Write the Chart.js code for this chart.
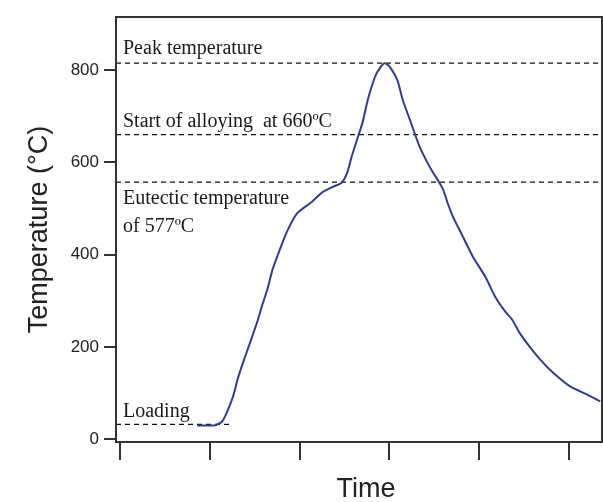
<!DOCTYPE html>
<html>
<head>
<meta charset="utf-8">
<style>
  html, body { margin: 0; padding: 0; background: #fff; }
  #wrap { width: 603px; height: 502px; }
</style>
</head>
<body>
<div id="wrap"><canvas id="myChart" width="603" height="502"></canvas></div>
<script src="https://cdn.jsdelivr.net/npm/chart.js"></script>
<script>
  // temperature profile
  var timeValues = [0.86, 1.06, 1.14, 1.19, 1.26, 1.31, 1.37, 1.45, 1.53, 1.58, 1.64, 1.70, 1.78, 1.86,
    1.97, 2.12, 2.26, 2.37, 2.47, 2.53, 2.58, 2.64, 2.70, 2.76, 2.84, 2.90, 2.95, 3.01, 3.09, 3.15,
    3.23, 3.29, 3.34, 3.42, 3.49, 3.54, 3.60, 3.65, 3.71, 3.82, 3.93, 4.07, 4.18, 4.29, 4.37, 4.45,
    4.57, 4.68, 4.82, 5.01, 5.20, 5.35];
  var tempValues = [30, 30, 39, 58, 93, 130, 166, 210, 255, 288, 324, 368, 411, 450,
    489, 512, 536, 547, 556, 577, 612, 649, 685, 735, 785, 806, 815, 806, 778, 735,
    692, 659, 633, 601, 577, 562, 541, 512, 482, 439, 396, 352, 309, 277, 259, 231,
    199, 173, 145, 115, 97, 82];

  // dashed reference levels
  var refNames = ["Peak temperature", "Start of alloying  at 660ºC", "Eutectic temperature", "Loading"];
  var refTemps = [815, 660, 557, 32];
  var refEnds = [5.37, 5.37, 5.37, 1.23];

  var xTicks = [0, 1, 2, 3, 4, 5];
  var yTicks = [0, 200, 400, 600, 800];

  var xMin = -0.045, xMax = 5.37, yMin = -6, yMax = 915;

  var datasets = [{
    data: timeValues.map(function (t, i) { return { x: t, y: tempValues[i] }; }),
    borderColor: "#2f3d8c",
    borderWidth: 2,
    pointRadius: 0,
    tension: 0.2,
    fill: false
  }];
  refTemps.forEach(function (v, i) {
    datasets.push({
      data: [{ x: xMin, y: v }, { x: refEnds[i], y: v }],
      borderColor: "#111",
      borderWidth: 1.3,
      borderDash: [5, 4],
      pointRadius: 0,
      fill: false
    });
  });

  const labelPlugin = {
    id: "refLabels",
    afterDatasetsDraw: function (chart) {
      const { ctx, chartArea, scales } = chart;
      ctx.save();
      ctx.fillStyle = "#1a1a1a";
      ctx.font = "20px 'Liberation Serif', 'Times New Roman', serif";
      ctx.textBaseline = "alphabetic";
      var x0 = chartArea.left + 7;
      var yp = function (v) { return scales.y.getPixelForValue(v); };
      ctx.fillText(refNames[0], x0, yp(refTemps[0]) - 9);
      ctx.fillText(refNames[1], x0, yp(refTemps[1]) - 8);
      ctx.fillText(refNames[2], x0, yp(refTemps[2]) + 22);
      ctx.fillText("of 577ºC", x0, yp(refTemps[2]) + 50);
      ctx.fillText(refNames[3], x0, yp(refTemps[3]) - 7);
      // axis title below the x axis
      ctx.fillStyle = "#222";
      ctx.font = "27px 'Liberation Sans', Arial, sans-serif";
      ctx.textAlign = "center";
      ctx.fillText("Time", 366, 497);
      // frame
      ctx.strokeStyle = "#333";
      ctx.lineWidth = 2;
      ctx.strokeRect(chartArea.left, chartArea.top, chartArea.right - chartArea.left, chartArea.bottom - chartArea.top);
      ctx.restore();
    }
  };

  new Chart(document.getElementById("myChart"), {
    type: "line",
    data: { datasets: datasets },
    options: {
      responsive: false,
      animation: false,
      layout: { padding: { top: 17, right: 1, left: 0, bottom: 0 } },
      plugins: { legend: { display: false }, tooltip: { enabled: false } },
      scales: {
        x: {
          type: "linear",
          min: xMin,
          max: xMax,
          afterBuildTicks: function (scale) { scale.ticks = xTicks.map(function (v) { return { value: v }; }); },
          afterFit: function (scale) { scale.height = 60; },
          border: { display: true, color: "#333", width: 2 },
          grid: { drawOnChartArea: false, drawTicks: true, tickLength: 18, color: "#333", lineWidth: 2 },
          ticks: { display: false },
          title: { display: false }
        },
        y: {
          min: yMin,
          max: yMax,
          afterBuildTicks: function (scale) { scale.ticks = yTicks.map(function (v) { return { value: v }; }); },
          afterFit: function (scale) { scale.width = 116; },
          border: { display: true, color: "#333", width: 2 },
          grid: { drawOnChartArea: false, drawTicks: true, tickLength: 12, color: "#333", lineWidth: 2 },
          ticks: {
            padding: 5,
            color: "#222",
            font: { family: "'Liberation Sans Narrow', 'Liberation Sans', Arial, sans-serif", size: 17 }
          },
          title: {
            display: true,
            text: "Temperature (°C)",
            font: { family: "'Liberation Sans', Arial, sans-serif", size: 27 },
            color: "#222",
            padding: { top: 23, bottom: 0 }
          }
        }
      }
    },
    plugins: [labelPlugin]
  });
</script>
</body>
</html>
